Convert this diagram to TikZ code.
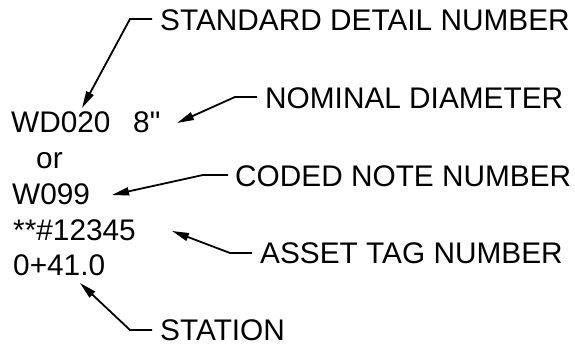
\documentclass[tikz,border=0pt]{standalone}
\usepackage{fontspec}
\setmainfont{Liberation Sans}[Ligatures=TeXOff]
\usetikzlibrary{arrows.meta}
\begin{document}
\begin{tikzpicture}[x=1pt,y=-1pt,
  lbl/.style={anchor=base west,inner sep=0pt,font=\fontsize{29.8}{31}\selectfont},
  leader/.style={line width=1.8pt,-{Triangle[length=17pt,width=8pt]}}]
\useasboundingbox (0,0) rectangle (575,345);
% left values
\node[lbl] (wd) at (11,132) {WD020};
\node[lbl] (dia) at (133,132) {8"};
\node[lbl] (or) at (36,168) {or};
\node[lbl] (w) at (12,204) {W099};
\node[lbl] (tag) at (13,240) {**\#12345};
\node[lbl] (sta) at (13,275) {0+41.0};
% labels
\node[lbl] (lstd) at (160,31) {STANDARD DETAIL NUMBER};
\node[lbl] (lnom) at (265,108) {NOMINAL DIAMETER};
\node[lbl] (lcod) at (235,186) {CODED NOTE NUMBER};
\node[lbl] (ltag) at (260,263) {ASSET TAG NUMBER};
\node[lbl] (lsta) at (160,340) {STATION};
% leader points
\coordinate (s1) at (152,19);  \coordinate (s2) at (130,19);  \coordinate (st) at (82,108);
\coordinate (n1) at (257,97);  \coordinate (n2) at (235,97);  \coordinate (nt) at (177,123);
\coordinate (c1) at (228,175); \coordinate (c2) at (203,175); \coordinate (ct) at (112,195);
\coordinate (a1) at (252,253); \coordinate (a2) at (230,253); \coordinate (at2) at (172,231);
\coordinate (t1) at (152,330); \coordinate (t2) at (130,330); \coordinate (tt) at (80,283);
\draw[leader] (s1) -- (s2) -- (st);
\draw[leader] (n1) -- (n2) -- (nt);
\draw[leader] (c1) -- (c2) -- (ct);
\draw[leader] (a1) -- (a2) -- (at2);
\draw[leader] (t1) -- (t2) -- (tt);
\end{tikzpicture}
\end{document}
